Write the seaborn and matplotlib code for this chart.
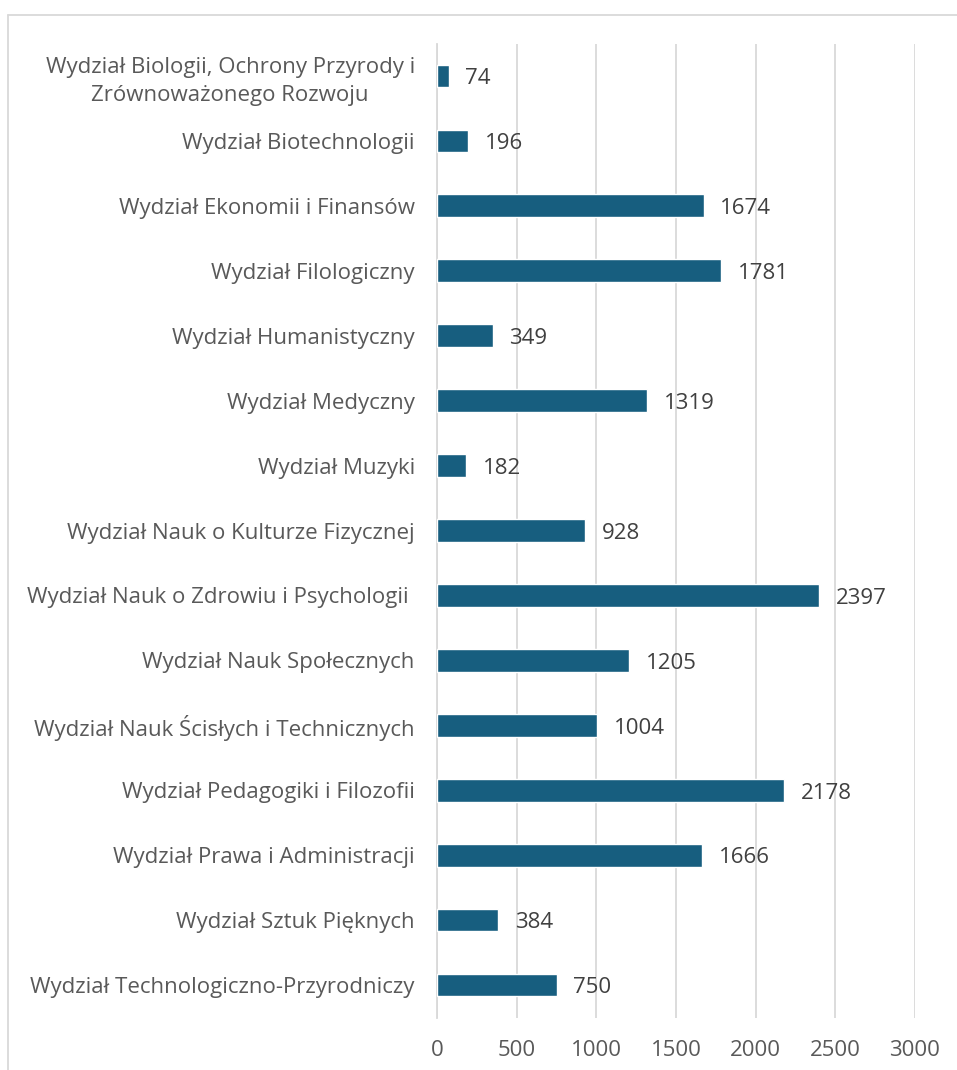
import matplotlib
matplotlib.use("Agg")
import matplotlib.pyplot as plt
import seaborn as sns
from matplotlib.lines import Line2D

# ── data ──────────────────────────────────────────────────────
faculties = [
    "Wydział Biologii, Ochrony Przyrody i\nZrównoważonego Rozwoju",
    "Wydział Biotechnologii",
    "Wydział Ekonomii i Finansów",
    "Wydział Filologiczny",
    "Wydział Humanistyczny",
    "Wydział Medyczny",
    "Wydział Muzyki",
    "Wydział Nauk o Kulturze Fizycznej",
    "Wydział Nauk o Zdrowiu i Psychologii ",
    "Wydział Nauk Społecznych",
    "Wydział Nauk Ścisłych i Technicznych",
    "Wydział Pedagogiki i Filozofii",
    "Wydział Prawa i Administracji",
    "Wydział Sztuk Pięknych",
    "Wydział Technologiczno-Przyrodniczy",
]
counts = [74, 196, 1674, 1781, 349, 1319, 182, 928, 2397, 1205, 1004, 2178, 1666, 384, 750]
x_ticks = [0, 500, 1000, 1500, 2000, 2500, 3000]

BAR = "#175E7F"
GRID = "#D9D9D9"
LABEL = "#595959"
VALUE = "#404040"
FS = 16

sns.set_style("white")
plt.rcParams["font.family"] = ["Open Sans", "DejaVu Sans"]

fig = plt.figure(figsize=(9.57, 10.7), dpi=100)
ax = fig.add_axes([437 / 957, 1 - 1017.5 / 1070, (915 - 437) / 957, (1017.5 - 43.5) / 1070])

sns.barplot(x=counts, y=faculties, orient="h", color=BAR, width=0.35,
            saturation=1, ax=ax, zorder=3)

ax.set_xlim(0, 3000)
ax.set_xticks(x_ticks)
ax.set_xticklabels([str(t) for t in x_ticks])
ax.grid(axis="x", color=GRID, linewidth=1.3, zorder=0)
ax.set_axisbelow(True)
for s in ["top", "right", "bottom"]:
    ax.spines[s].set_visible(False)
ax.spines["left"].set_color(GRID)
ax.spines["left"].set_linewidth(1.3)
ax.tick_params(axis="both", length=0, labelsize=FS, labelcolor=LABEL)
ax.tick_params(axis="x", pad=16)
ax.tick_params(axis="y", pad=16)
for lbl in ax.get_yticklabels():
    lbl.set_multialignment("center")
    lbl.set_linespacing(1.4)
ax.set_xlabel("")
ax.set_ylabel("")

for i, v in enumerate(counts):
    ax.annotate(str(v), (v, i), xytext=(12, -2), textcoords="offset points",
                va="center", ha="left", fontsize=FS, color=VALUE)

# chart frame (partially cropped in the original)
fx, fy = 8 / 957, 1 - 15 / 1070
fig.add_artist(Line2D([fx, fx], [0, fy], color=GRID, linewidth=1.3))
fig.add_artist(Line2D([fx, 1], [fy, fy], color=GRID, linewidth=1.3))

fig.savefig("out.png", dpi=100)
